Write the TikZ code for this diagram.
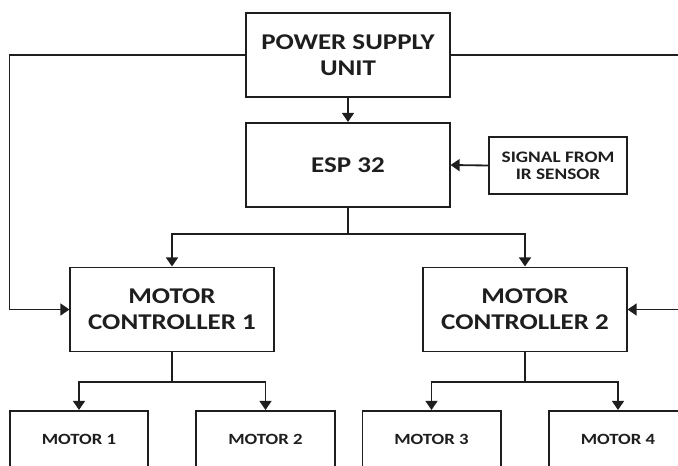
\documentclass[tikz,border=0pt]{standalone}
\usepackage{fontspec}
\setmainfont{Carlito}[FakeStretch=1.2]
\usetikzlibrary{arrows.meta}

\definecolor{ink}{HTML}{1E1E1E}

\tikzset{
	block/.style={draw=ink, line width=1.4pt, fill=white, align=center, inner sep=0pt,
		text=ink, font=\bfseries\fontsize{16}{18.5}\selectfont,
		minimum width=5.075cm, minimum height=2.1cm},
	smallblock/.style={block, font=\bfseries\fontsize{11.4}{12.2}\selectfont,
		minimum width=3.45cm, minimum height=1.425cm},
	motorblock/.style={block, font=\bfseries\fontsize{11.1}{12}\selectfont,
		minimum width=3.45cm, minimum height=1.425cm},
	wire/.style={draw=ink, line width=1.3pt},
}

\begin{document}
\begin{tikzpicture}[x=0.025cm, y=-0.025cm]
	\tikzset{>={Triangle[length=6.5pt,width=8.5pt]}}
	\useasboundingbox (0,0) rectangle (678,466);

	% blocks
	\node[block] (psu) at (348,55) {POWER SUPPLY\\UNIT};
	\node[block] (esp) at (348,165) {ESP 32};
	\node[smallblock] (sig) at (558,165.5) {SIGNAL FROM\\IR SENSOR};

	\node[block] (mc1) at (172,309.5) {MOTOR\\CONTROLLER 1};
	\node[block] (mc2) at (525,309.5) {MOTOR\\CONTROLLER 2};

	\node[motorblock] (m1) at (79,439.5) {MOTOR 1};
	\node[motorblock] (m2) at (265.5,439.5) {MOTOR 2};
	\node[motorblock] (m3) at (431.5,439.5) {MOTOR 3};
	\node[motorblock] (m4) at (618,439.5) {MOTOR 4};

	% power rails
	\coordinate (lrail) at (9.5,55);
	\coordinate (rrail) at (700,55);
	\draw[wire,->] (psu.west) -- (lrail) |- (mc1.west);
	\draw[wire,->] (psu.east) -- (rrail) |- (mc2.east);

	\draw[wire,->] (psu.south) -- (esp.north);
	\draw[wire,->] (sig.west) -- (esp.east);

	% esp to controllers
	\coordinate (ebus) at (348,234);
	\draw[wire] (esp.south) -- (ebus);
	\draw[wire,->] (ebus) -| (mc1.north);
	\draw[wire,->] (ebus) -| (mc2.north);

	% controllers to motors
	\coordinate (bus1) at (172,382);
	\coordinate (bus2) at (525,382);
	\draw[wire,line width=0.9pt] (mc1.south) -- (bus1);
	\draw[wire,->] (bus1) -| (m1.north);
	\draw[wire,->] (bus1) -| (m2.north);
	\draw[wire,line width=0.9pt] (mc2.south) -- (bus2);
	\draw[wire,->] (bus2) -| (m3.north);
	\draw[wire,->] (bus2) -| (m4.north);
\end{tikzpicture}
\end{document}
